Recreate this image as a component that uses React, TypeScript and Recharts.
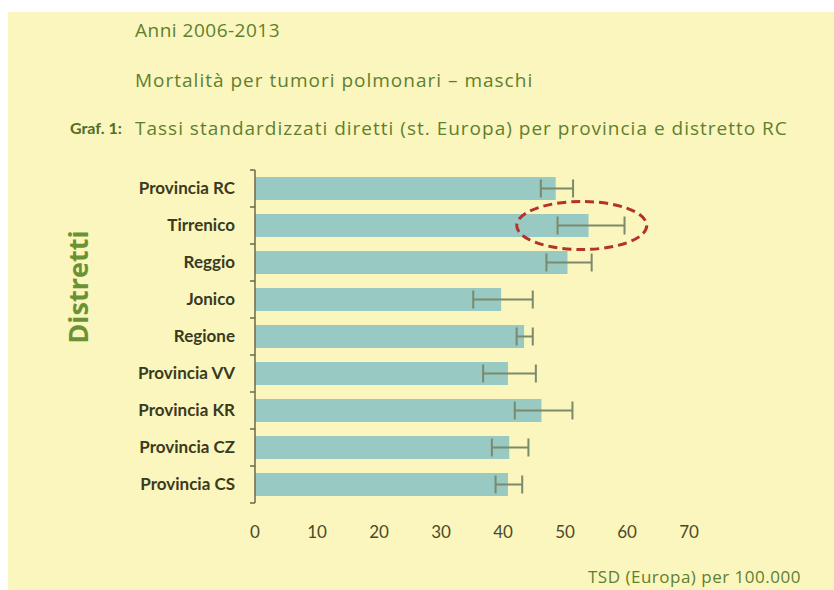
import React from 'react';
import { BarChart, Bar, XAxis, YAxis, ErrorBar, ReferenceDot } from 'recharts';

const categories = [
  'Provincia RC',
  'Tirrenico',
  'Reggio',
  'Jonico',
  'Regione',
  'Provincia VV',
  'Provincia KR',
  'Provincia CZ',
  'Provincia CS',
];
const rates = [48.5, 53.8, 50.4, 39.7, 43.4, 40.8, 46.2, 41.0, 40.8];
const lower = [46.1, 48.8, 47.0, 35.2, 42.2, 36.8, 41.9, 38.2, 38.8];
const upper = [51.3, 59.6, 54.3, 44.8, 44.8, 45.3, 51.2, 44.1, 43.1];
const xTicks = [0, 10, 20, 30, 40, 50, 60, 70];
const highlighted = 'Tirrenico';
const highlightX = 52.7;

const data = categories.map((name, i) => ({
  name,
  value: rates[i],
  err: [rates[i] - lower[i], upper[i] - rates[i]],
}));

const GREEN = '#5f7f30';
const TITLE_FONT = "'Open Sans', 'Liberation Sans', sans-serif";
const LABEL_FONT = "Lato, 'Liberation Sans', sans-serif";
const AXIS_COLOR = '#6b6a4e';
const CAT_TICK_MARGIN = 20;
const BOUNDARY_TICK = 5;

const CategoryTick = (props: any) => {
  const { x, y, payload, index, visibleTicksCount, height } = props;
  const count = visibleTicksCount || categories.length;
  const half = payload && payload.offset ? payload.offset : height / count / 2;
  const axisX = x + CAT_TICK_MARGIN;
  return (
    <g>
      {index === 0 && (
        <line x1={axisX - BOUNDARY_TICK} x2={axisX} y1={y - half} y2={y - half} stroke={AXIS_COLOR} strokeWidth={1.5} />
      )}
      <line x1={axisX - BOUNDARY_TICK} x2={axisX} y1={y + half} y2={y + half} stroke={AXIS_COLOR} strokeWidth={1.5} />
      <text
        x={x}
        y={y}
        dy="0.35em"
        textAnchor="end"
        fontFamily={LABEL_FONT}
        fontSize={17}
        fontWeight="bold"
        fill="#3a3a1f"
      >
        {payload.value}
      </text>
    </g>
  );
};

const Ellipse = (props: any) => {
  const { cx, cy } = props;
  if (cx == null || cy == null) return null;
  return (
    <ellipse
      cx={cx}
      cy={cy}
      rx={65}
      ry={24}
      fill="none"
      stroke="#b3322b"
      strokeWidth={3}
      strokeDasharray="9 5"
    />
  );
};

const titleStyle: React.CSSProperties = {
  position: 'absolute',
  lineHeight: '20px',
  fontSize: 19,
  letterSpacing: 1,
  fontFamily: TITLE_FONT,
  color: GREEN,
  whiteSpace: 'nowrap',
};

export default function App() {
  return (
    <div style={{ position: 'absolute', left: 0, top: 0, width: 834, height: 590, background: '#ffffff', overflow: 'hidden' }}>
      <div style={{ position: 'absolute', left: 8, top: 12, width: 826, height: 578, background: '#faf6bd' }} />
      <div style={{ ...titleStyle, left: 135, top: 20, letterSpacing: 0.5 }}>Anni 2006-2013</div>
      <div style={{ ...titleStyle, left: 135, top: 70 }}>Mortalità per tumori polmonari – maschi</div>
      <div
        style={{
          position: 'absolute',
          left: 70,
          top: 118,
          lineHeight: '20px',
          fontSize: 16,
          fontWeight: 'bold',
          fontFamily: LABEL_FONT,
          color: '#516d28',
          whiteSpace: 'nowrap',
        }}
      >
        Graf. 1:
      </div>
      <div style={{ ...titleStyle, left: 135, top: 118 }}>
        Tassi standardizzati diretti (st. Europa) per provincia e distretto RC
      </div>
      <div
        style={{
          position: 'absolute',
          left: 78,
          top: 287,
          transform: 'translate(-50%, -50%) rotate(-90deg)',
          fontSize: 27,
          fontWeight: 'bold',
          fontFamily: TITLE_FONT,
          color: '#6a9234',
          whiteSpace: 'nowrap',
          lineHeight: '30px',
        }}
      >
        Distretti
      </div>
      <div
        style={{
          position: 'absolute',
          left: 588,
          top: 567,
          lineHeight: '20px',
          fontSize: 17,
          letterSpacing: 0.5,
          fontFamily: TITLE_FONT,
          color: GREEN,
          whiteSpace: 'nowrap',
        }}
      >
        TSD (Europa) per 100.000
      </div>
      <div style={{ position: 'absolute', left: 0, top: 0 }}>
        <BarChart
          width={834}
          height={590}
          data={data}
          layout="vertical"
          margin={{ top: 170, right: 145, bottom: 57, left: 0 }}
        >
          <XAxis
            type="number"
            domain={[0, 70]}
            ticks={xTicks}
            height={30}
            axisLine={false}
            tickLine={false}
            tickMargin={17}
            tick={{ fontFamily: LABEL_FONT, fontSize: 17, fill: '#4a4a2a' }}
          />
          <YAxis
            type="category"
            dataKey="name"
            width={255}
            axisLine={{ stroke: AXIS_COLOR, strokeWidth: 1.5 }}
            tickLine={false}
            tickSize={0}
            tickMargin={CAT_TICK_MARGIN}
            tick={<CategoryTick />}
          />
          <Bar dataKey="value" fill="#98c9c3" barSize={23} isAnimationActive={false}>
            <ErrorBar dataKey="err" direction="x" width={9} stroke="#7b8a6c" strokeWidth={2} />
          </Bar>
          <ReferenceDot x={highlightX} y={highlighted} r={1} shape={Ellipse} />
        </BarChart>
      </div>
    </div>
  );
}
